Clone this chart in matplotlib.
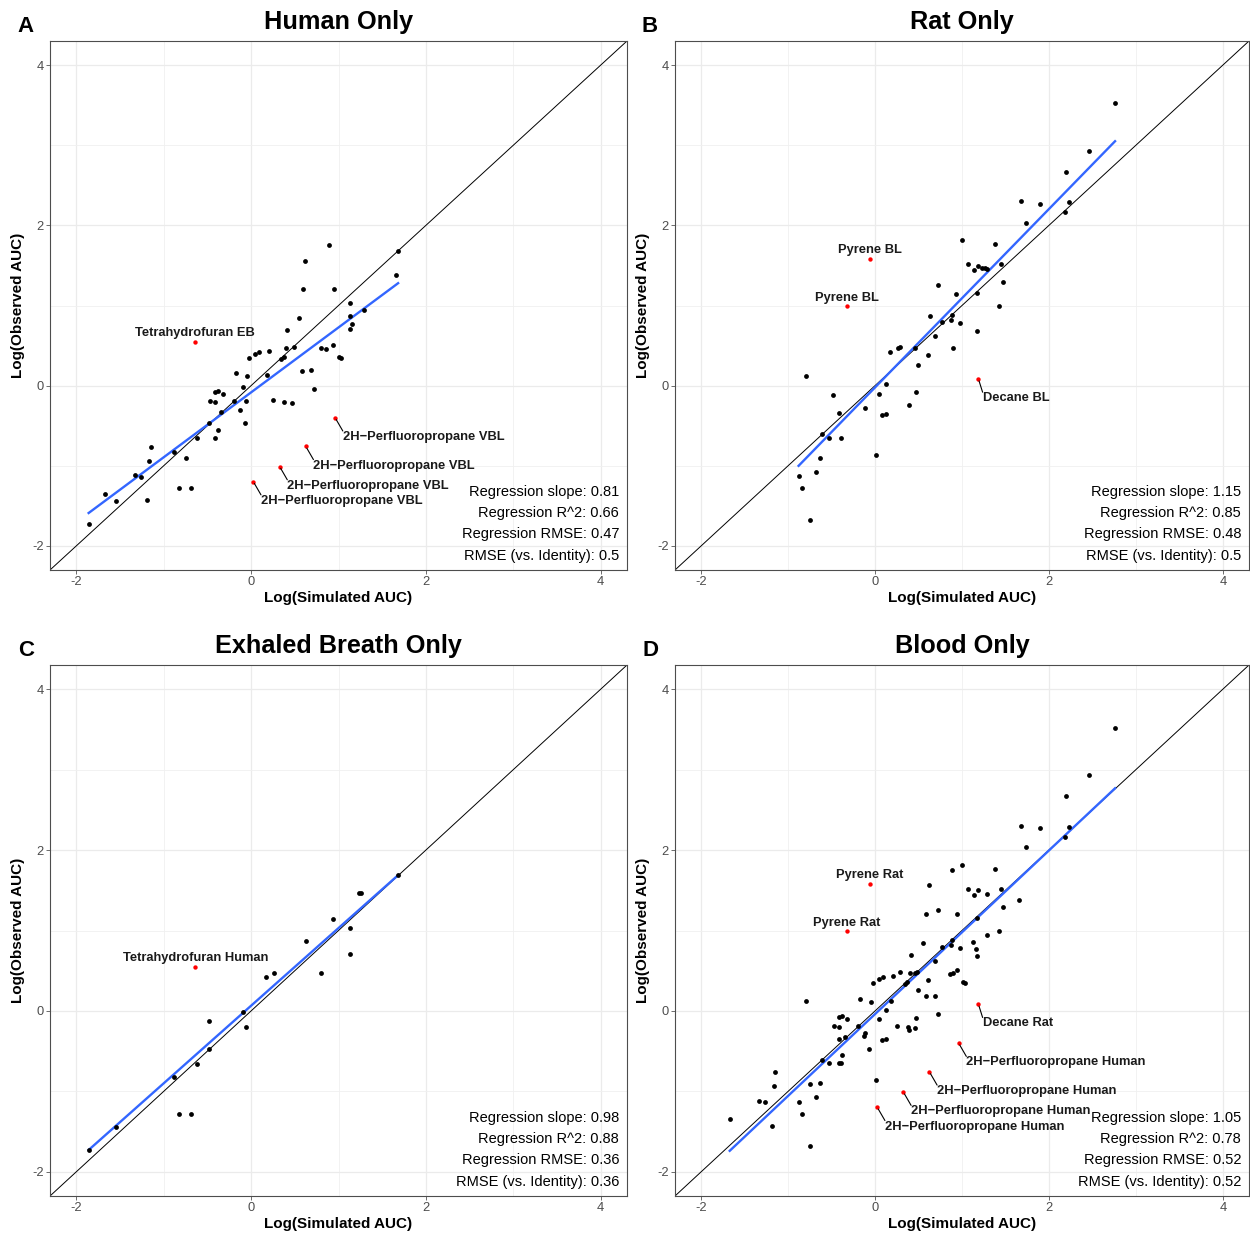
import numpy as np
import matplotlib
matplotlib.use("Agg")
import matplotlib.pyplot as plt
from matplotlib.ticker import MultipleLocator

plt.rcParams['font.family'] = ['Liberation Sans', 'DejaVu Sans']
plt.rcParams['axes.unicode_minus'] = False

# ---------------- data (log AUC values) ----------------
# Human, exhaled breath (EB)
hum_breath_x = [-1.858, -1.54, -0.879, -0.83, -0.69, -0.619, -0.48, -0.095, -0.057, 0.803, 1.135, 1.133, 1.682]
hum_breath_y = [-1.727, -1.44, -0.825, -1.278, -1.278, -0.658, -0.47, -0.012, -0.194, 0.467, 1.03, 0.71, 1.684]
# Human, venous blood (VBL)
hum_blood_x = [-1.671, -1.185, -1.33, -1.26, -1.166, -1.147, -0.749, -0.409, -0.378, -0.47, -0.409, -0.413,
               -0.378, -0.317, -0.344, -0.195, -0.122, -0.072, -0.176, -0.046, -0.027, 0.05, 0.088, 0.203,
               0.18, 0.256, 0.382, 0.463, 0.344, 0.371, 0.401, 0.486, 0.413, 0.547, 0.581, 0.684, 0.722,
               0.589, 0.619, 0.887, 0.948, 0.86, 0.94, 1.009, 1.032, 1.131, 1.158, 1.288, 1.655]
hum_blood_y = [-1.347, -1.43, -1.12, -1.136, -0.934, -0.764, -0.905, -0.653, -0.553, -0.186, -0.202, -0.078,
               -0.066, -0.103, -0.326, -0.19, -0.31, -0.471, 0.153, 0.116, 0.351, 0.392, 0.417, 0.438,
               0.128, -0.182, -0.202, -0.215, 0.335, 0.359, 0.471, 0.479, 0.698, 0.843, 0.186, 0.19, -0.041,
               1.206, 1.561, 1.751, 1.206, 0.458, 0.512, 0.359, 0.351, 0.863, 0.764, 0.946, 1.379]
# Rat, exhaled breath
rat_breath_x = [-0.485, 0.175, 0.265, 0.63, 0.933, 1.233, 1.263]
rat_breath_y = [-0.122, 0.425, 0.467, 0.869, 1.149, 1.47, 1.472]
# Rat, blood (BL)
rat_blood_x = [-0.788, -0.417, -0.115, 0.05, 0.122, 0.287, 0.455, 0.497, 0.47, 0.39, 0.608, 0.688, 0.722,
               0.084, 0.13, -0.611, -0.528, -0.39, -0.638, -0.673, -0.879, -0.837, -0.753, 0.008, 0.898,
               1.174, 2.76, 2.462, 2.198, 1.678, 1.9, 2.236, 2.183, 1.74, 0.998, 1.376, 1.074, 1.135,
               1.181, 1.292, 1.449, 1.476, 1.17, 1.422, 0.887, 0.879, 0.765, 0.975]
rat_blood_y = [0.124, -0.347, -0.277, -0.103, 0.016, 0.483, 0.471, 0.26, -0.083, -0.24, 0.38, 0.616, 1.255,
               -0.36, -0.35, -0.607, -0.648, -0.648, -0.9, -1.074, -1.132, -1.276, -1.677, -0.859, 0.471,
               0.681, 3.523, 2.933, 2.668, 2.301, 2.271, 2.292, 2.168, 2.032, 1.818, 1.764, 1.52, 1.446,
               1.499, 1.45, 1.512, 1.293, 1.152, 0.988, 0.876, 0.814, 0.797, 0.781]

# Flagged outliers (red)
out_compound = ["Tetrahydrofuran", "2H\u2212Perfluoropropane", "2H\u2212Perfluoropropane",
                "2H\u2212Perfluoropropane", "2H\u2212Perfluoropropane", "Pyrene", "Pyrene", "Decane"]
out_species = ["Human", "Human", "Human", "Human", "Human", "Rat", "Rat", "Rat"]
out_matrix = ["EB", "VBL", "VBL", "VBL", "VBL", "BL", "BL", "BL"]
out_x = [-0.638, 0.962, 0.626, 0.327, 0.026, -0.061, -0.325, 1.189]
out_y = [0.546, -0.401, -0.758, -1.01, -1.198, 1.583, 0.988, 0.083]

# Panel info
panel_titles = ["Human Only", "Rat Only", "Exhaled Breath Only", "Blood Only"]
panel_letters = ["A", "B", "C", "D"]
fit_slope = [0.81, 1.113, 0.965, 1.017]
fit_intercept = [-0.084, -0.022, 0.065, -0.039]
stat_slope = ["0.81", "1.15", "0.98", "1.05"]
stat_r2 = ["0.66", "0.85", "0.88", "0.78"]
stat_rmse = ["0.47", "0.48", "0.36", "0.52"]
stat_rmse_id = ["0.5", "0.5", "0.36", "0.52"]
tick_values = [-2, 0, 2, 4]

# ---------------- build panel data ----------------
groups = {
    ("Human", "breath"): (hum_breath_x, hum_breath_y),
    ("Human", "blood"): (hum_blood_x, hum_blood_y),
    ("Rat", "breath"): (rat_breath_x, rat_breath_y),
    ("Rat", "blood"): (rat_blood_x, rat_blood_y),
}
panel_groups = [
    [("Human", "breath"), ("Human", "blood")],
    [("Rat", "breath"), ("Rat", "blood")],
    [("Human", "breath"), ("Rat", "breath")],
    [("Human", "blood"), ("Rat", "blood")],
]


def out_in_panel(i, k):
    sp = out_species[k]
    mat = "breath" if out_matrix[k] == "EB" else "blood"
    return (sp, mat) in panel_groups[i]


def out_label(i, k):
    suffix = out_matrix[k] if i < 2 else out_species[k]
    return f"{out_compound[k]} {suffix}"


# ---------------- figure ----------------
W, H = 1250, 1233
fig = plt.figure(figsize=(W / 100, H / 100), dpi=100)

rects = [
    (50, 41, 627, 570),
    (675, 41, 1249, 570),
    (50, 665, 627, 1196),
    (675, 665, 1249, 1196),
]
letter_pos = [(26, 26), (650, 26), (26, 650), (650, 650)]

lim = (-2.3, 4.3)
for i in range(4):
    l, t, r, b = rects[i]
    ax = fig.add_axes([l / W, 1 - b / H, (r - l) / W, (b - t) / H])
    ax.set_xlim(lim)
    ax.set_ylim(lim)

    xs, ys = [], []
    for g in panel_groups[i]:
        xs += list(groups[g][0])
        ys += list(groups[g][1])
    xs = np.array(xs)
    ys = np.array(ys)
    ox = np.array([out_x[k] for k in range(len(out_x)) if out_in_panel(i, k)])

    # grid
    ax.xaxis.set_major_locator(MultipleLocator(2))
    ax.yaxis.set_major_locator(MultipleLocator(2))
    ax.xaxis.set_minor_locator(MultipleLocator(1))
    ax.yaxis.set_minor_locator(MultipleLocator(1))
    ax.grid(True, which='major', color='#EBEBEB', lw=0.9, zorder=0)
    ax.grid(True, which='minor', color='#F0F0F0', lw=0.6, zorder=0)
    ax.set_axisbelow(True)
    ax.tick_params(which='minor', length=0)
    ax.tick_params(which='major', length=3, width=0.6, color='#555555', labelsize=9.3,
                   labelcolor='#4D4D4D', pad=1.5)
    ax.set_xticks(tick_values)
    ax.set_yticks(tick_values)
    ax.set_xticklabels([str(v) for v in tick_values])
    ax.set_yticklabels([str(v) for v in tick_values])
    for s in ax.spines.values():
        s.set_color('#4D4D4D')
        s.set_linewidth(0.8)

    # identity line
    ax.axline((0, 0), slope=1, color='black', lw=0.7, zorder=2)

    # regression line
    allx = np.concatenate([xs, ox]) if len(ox) else xs
    fx = np.array([allx.min(), allx.max()])
    ax.plot(fx, fit_intercept[i] + fit_slope[i] * fx, color='#3366FF', lw=1.7, zorder=3)

    # points
    ax.scatter(xs, ys, s=12, color='black', linewidths=0, zorder=4)

    # outliers + labels
    for k in range(len(out_x)):
        if not out_in_panel(i, k):
            continue
        ax.scatter([out_x[k]], [out_y[k]], s=10, color='#FF0000', linewidths=0, zorder=5)
        lab = out_label(i, k)
        if out_compound[k] in ("Tetrahydrofuran", "Pyrene"):
            ax.annotate(lab, (out_x[k], out_y[k]), xytext=(0, 6.3), textcoords='offset points',
                        ha='center', va='center', fontsize=9.3, fontweight='bold', color='#1a1a1a',
                        zorder=6)
        else:
            dx = 3 if out_compound[k] == "Decane" else 5.5
            ax.annotate(lab, (out_x[k], out_y[k]), xytext=(dx, -9.5), textcoords='offset points',
                        ha='left', va='top', fontsize=9.3, fontweight='bold', color='#1a1a1a',
                        zorder=6,
                        arrowprops=dict(arrowstyle='-', color='black', lw=0.8, shrinkA=0,
                                        shrinkB=1.5, relpos=(0, 1), patchA=None))

    # stats
    lines = [f"RMSE (vs. Identity): {stat_rmse_id[i]}", f"Regression RMSE: {stat_rmse[i]}",
             f"Regression R^2: {stat_r2[i]}", f"Regression slope: {stat_slope[i]}"]
    for j, txt in enumerate(lines):
        ax.text(4.21, -2.12 + j * 0.265, txt, ha='right', va='center', fontsize=10.5,
                color='black', zorder=7)

    # titles & labels
    hpx = b - t
    wpx = r - l
    ax.text(0.5, 1 + 19 / hpx, panel_titles[i], transform=ax.transAxes, ha='center',
            va='center', fontsize=18.2, fontweight='bold')
    ax.text(0.5, -28 / hpx, "Log(Simulated AUC)", transform=ax.transAxes, ha='center',
            va='center', fontsize=11, fontweight='bold')
    ax.text(-32 / wpx, 0.5, "Log(Observed AUC)", transform=ax.transAxes, ha='center',
            va='center', rotation=90, fontsize=11, fontweight='bold')
    lx, ly = letter_pos[i]
    fig.text(lx / W, 1 - ly / H, panel_letters[i], ha='center', va='center', fontsize=16,
             fontweight='bold')

fig.savefig("out.png", dpi=100, facecolor='white')
